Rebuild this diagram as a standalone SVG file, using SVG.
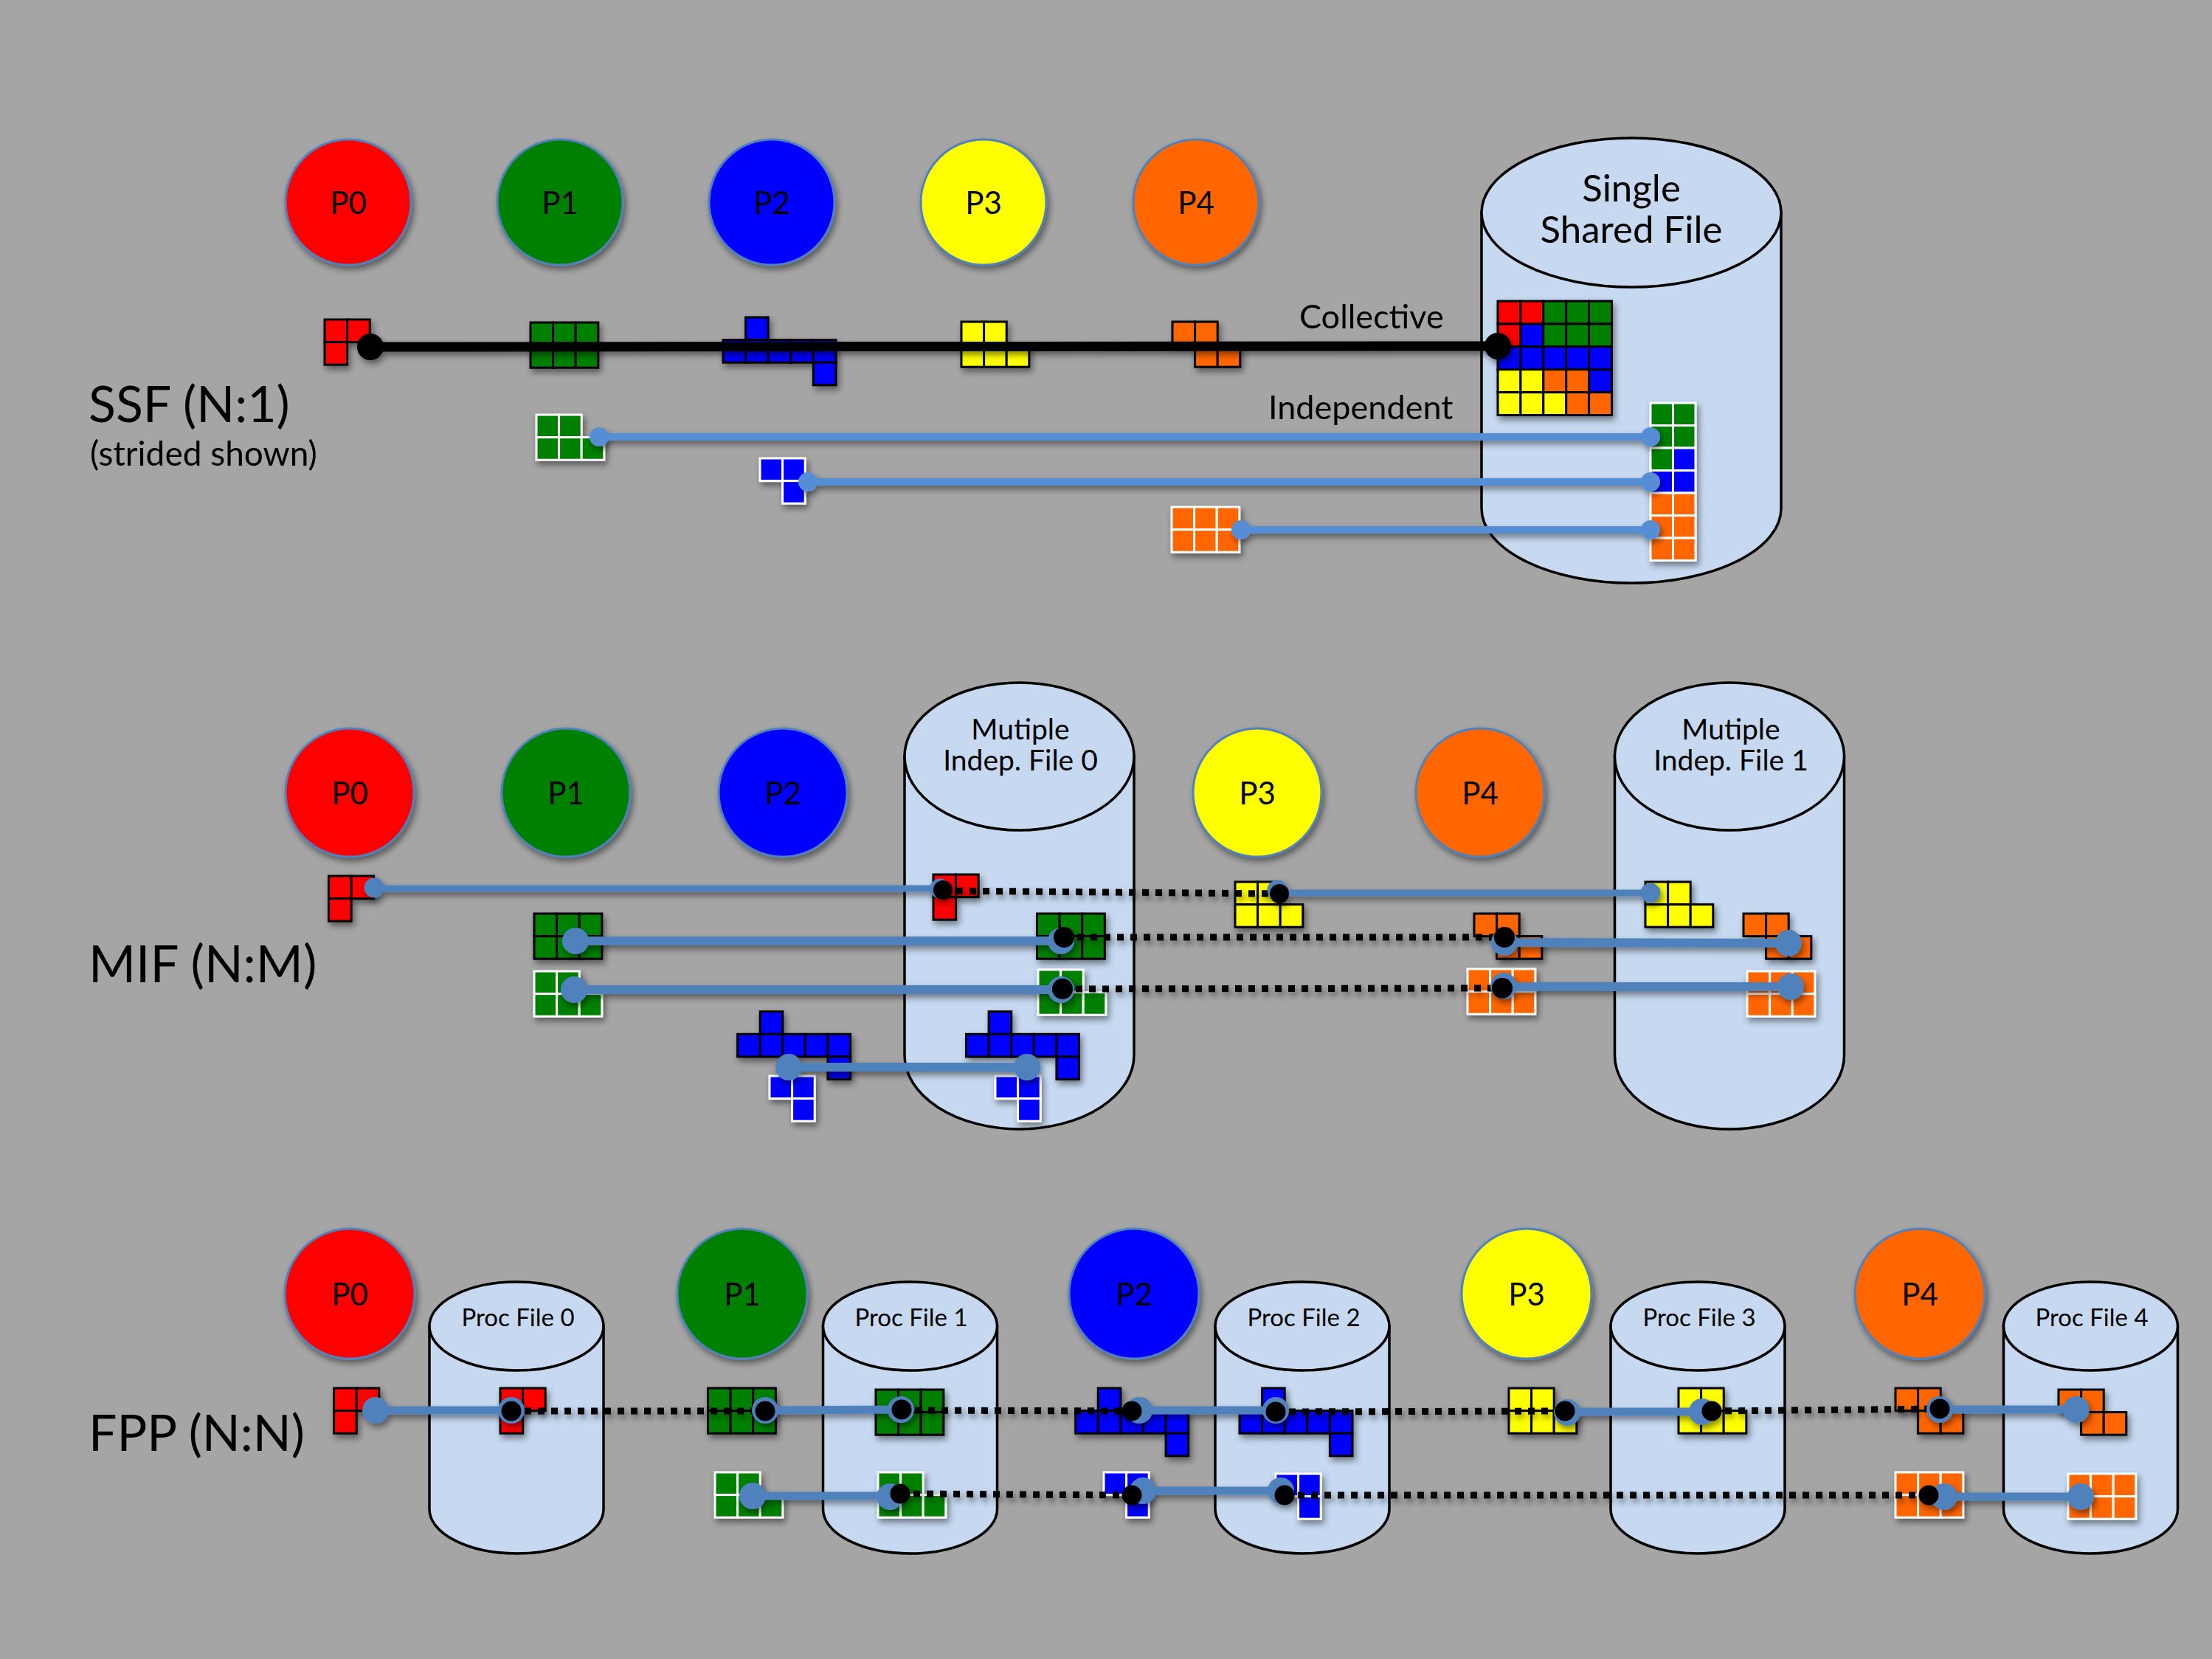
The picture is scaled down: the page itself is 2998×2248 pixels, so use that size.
<svg xmlns="http://www.w3.org/2000/svg" width="2998" height="2248" viewBox="0 0 2998 2248">
<style>
.cyl{fill:#c6d9f0;stroke:#000;stroke-width:3.5}
.pc{stroke:#4f81bd;stroke-width:3}
.t{font-family:Lato,"Liberation Sans",sans-serif;fill:#000}
.k{stroke:#000;stroke-width:3}
.w{stroke:#fff;stroke-width:3}
.R{fill:#ff0000}.G{fill:#008000}.B{fill:#0000ff}.Y{fill:#ffff00}.O{fill:#ff6600}
.sl{stroke:#558ed5;stroke-width:10}
.ml{stroke:#4f81bd}
.sd{fill:#558ed5}
.md{fill:#4f81bd}
.bk{fill:#000}
.dt{stroke:#000;stroke-width:9;stroke-dasharray:9 9;fill:none}
</style>
<defs>
<filter id="sh" filterUnits="userSpaceOnUse" x="0" y="0" width="2998" height="2248">
<feDropShadow dx="3" dy="5" stdDeviation="4" flood-color="#000" flood-opacity="0.45"/>
</filter>
<g id="gam"><rect x="0" y="0" width="30.6" height="30.6"/><rect x="30.6" y="0" width="30.6" height="30.6"/><rect x="0" y="30.6" width="30.6" height="30.6"/></g>
<g id="gamR"><rect x="0" y="0" width="30.6" height="30.6"/><rect x="30.6" y="0" width="30.6" height="30.6"/><rect x="30.6" y="30.6" width="30.6" height="30.6"/></g>
<g id="b6"><rect x="0" y="0" width="30.6" height="30.6"/><rect x="30.6" y="0" width="30.6" height="30.6"/><rect x="61.2" y="0" width="30.6" height="30.6"/><rect x="0" y="30.6" width="30.6" height="30.6"/><rect x="30.6" y="30.6" width="30.6" height="30.6"/><rect x="61.2" y="30.6" width="30.6" height="30.6"/></g>
<g id="b5"><rect x="0" y="0" width="30.6" height="30.6"/><rect x="30.6" y="0" width="30.6" height="30.6"/><rect x="0" y="30.6" width="30.6" height="30.6"/><rect x="30.6" y="30.6" width="30.6" height="30.6"/><rect x="61.2" y="30.6" width="30.6" height="30.6"/></g>
<g id="tet"><rect x="30.6" y="0" width="30.6" height="30.6"/><rect x="0" y="30.6" width="30.6" height="30.6"/><rect x="30.6" y="30.6" width="30.6" height="30.6"/><rect x="61.2" y="30.6" width="30.6" height="30.6"/><rect x="91.8" y="30.6" width="30.6" height="30.6"/><rect x="122.4" y="30.6" width="30.6" height="30.6"/><rect x="122.4" y="61.2" width="30.6" height="30.6"/></g>
<g id="zz"><rect x="0" y="0" width="30.6" height="30.6"/><rect x="30.6" y="0" width="30.6" height="30.6"/><rect x="30.6" y="30.6" width="30.6" height="30.6"/><rect x="61.2" y="30.6" width="30.6" height="30.6"/></g>
</defs>
<rect width="2998" height="2248" fill="#a5a5a5"/>

<!-- Cylinders -->
<g id="ssf-file">
<path class="cyl" d="M2008,288 L2008,689 A203,101 0 0 0 2414,689 L2414,288 Z"/>
<ellipse class="cyl" cx="2211" cy="288" rx="203" ry="101"/>
<text class="t" x="2211" y="273" font-size="51" text-anchor="middle">Single</text>
<text class="t" x="2211" y="329" font-size="51" text-anchor="middle">Shared File</text>
</g>
<g id="mif-file0">
<path class="cyl" d="M1226,1025 L1226,1430 A155.5,100 0 0 0 1537,1430 L1537,1025 Z"/>
<ellipse class="cyl" cx="1381.5" cy="1025" rx="155.5" ry="100"/>
<text class="t" x="1383" y="1002" font-size="39" text-anchor="middle">Mutiple</text>
<text class="t" x="1383" y="1044" font-size="39" text-anchor="middle">Indep. File 0</text>
</g>
<g id="mif-file1">
<path class="cyl" d="M2188.5,1025 L2188.5,1430 A155.5,100 0 0 0 2499.5,1430 L2499.5,1025 Z"/>
<ellipse class="cyl" cx="2344" cy="1025" rx="155.5" ry="100"/>
<text class="t" x="2346" y="1002" font-size="39" text-anchor="middle">Mutiple</text>
<text class="t" x="2346" y="1044" font-size="39" text-anchor="middle">Indep. File 1</text>
</g>
<g id="fpp-file0">
<path class="cyl" d="M582,1797 L582,2045 A118,60 0 0 0 818,2045 L818,1797 Z"/>
<ellipse class="cyl" cx="700" cy="1797" rx="118" ry="60"/>
<text class="t" x="702" y="1797" font-size="33" text-anchor="middle">Proc File 0</text>
</g>
<g id="fpp-file1">
<path class="cyl" d="M1115.5,1797 L1115.5,2045 A118,60 0 0 0 1351.5,2045 L1351.5,1797 Z"/>
<ellipse class="cyl" cx="1233.5" cy="1797" rx="118" ry="60"/>
<text class="t" x="1235" y="1797" font-size="33" text-anchor="middle">Proc File 1</text>
</g>
<g id="fpp-file2">
<path class="cyl" d="M1647,1797 L1647,2045 A118,60 0 0 0 1883,2045 L1883,1797 Z"/>
<ellipse class="cyl" cx="1765" cy="1797" rx="118" ry="60"/>
<text class="t" x="1767" y="1797" font-size="33" text-anchor="middle">Proc File 2</text>
</g>
<g id="fpp-file3">
<path class="cyl" d="M2183,1797 L2183,2045 A118,60 0 0 0 2419,2045 L2419,1797 Z"/>
<ellipse class="cyl" cx="2301" cy="1797" rx="118" ry="60"/>
<text class="t" x="2303" y="1797" font-size="33" text-anchor="middle">Proc File 3</text>
</g>
<g id="fpp-file4">
<path class="cyl" d="M2715.5,1797 L2715.5,2045 A118,60 0 0 0 2951.5,2045 L2951.5,1797 Z"/>
<ellipse class="cyl" cx="2833.5" cy="1797" rx="118" ry="60"/>
<text class="t" x="2835" y="1797" font-size="33" text-anchor="middle">Proc File 4</text>
</g>

<!-- Process circles -->
<g filter="url(#sh)">
<g id="ssf-p0"><circle class="pc R" cx="472" cy="274" r="85"/></g>
<g id="ssf-p1"><circle class="pc G" cx="759" cy="274" r="85"/></g>
<g id="ssf-p2"><circle class="pc B" cx="1046" cy="274" r="85"/></g>
<g id="ssf-p3"><circle class="pc Y" cx="1333" cy="274" r="85"/></g>
<g id="ssf-p4"><circle class="pc O" cx="1621" cy="274" r="85"/></g>
<g id="mif-p0"><circle class="pc R" cx="474" cy="1074" r="87"/></g>
<g id="mif-p1"><circle class="pc G" cx="767" cy="1074" r="87"/></g>
<g id="mif-p2"><circle class="pc B" cx="1061" cy="1074" r="87"/></g>
<g id="mif-p3"><circle class="pc Y" cx="1704" cy="1074" r="87"/></g>
<g id="mif-p4"><circle class="pc O" cx="2006" cy="1074" r="87"/></g>
<g id="fpp-p0"><circle class="pc R" cx="474" cy="1753" r="88"/></g>
<g id="fpp-p1"><circle class="pc G" cx="1006" cy="1753" r="88"/></g>
<g id="fpp-p2"><circle class="pc B" cx="1537" cy="1753" r="88"/></g>
<g id="fpp-p3"><circle class="pc Y" cx="2069" cy="1753" r="88"/></g>
<g id="fpp-p4"><circle class="pc O" cx="2602" cy="1753" r="88"/></g>
</g>
<g class="t" font-size="42" text-anchor="middle">
<text x="472" y="290">P0</text><text x="759" y="290">P1</text><text x="1046" y="290">P2</text><text x="1333" y="290">P3</text><text x="1621" y="290">P4</text>
<text x="474" y="1090">P0</text><text x="767" y="1090">P1</text><text x="1061" y="1090">P2</text><text x="1704" y="1090">P3</text><text x="2006" y="1090">P4</text>
<text x="474" y="1769">P0</text><text x="1006" y="1769">P1</text><text x="1537" y="1769">P2</text><text x="2069" y="1769">P3</text><text x="2602" y="1769">P4</text>
</g>

<!-- Data blocks -->
<g id="blocks" filter="url(#sh)">
<g id="ssf-blocks">
<use href="#gam" x="440" y="433" class="R k"/>
<use href="#b6" x="719" y="437" class="G k"/>
<use href="#tet" x="980" y="430" class="B k"/>
<use href="#b5" x="1303" y="436" class="Y k"/>
<use href="#zz" x="1589" y="436" class="O k"/>
<use href="#b5" x="727" y="562" class="G w"/>
<use href="#gamR" x="1030" y="621" class="B w"/>
<use href="#b6" x="1588" y="687" class="O w"/>
<g class="k">
<rect x="2030" y="408" width="30.9" height="30.9" class="R"/><rect x="2060.9" y="408" width="30.9" height="30.9" class="R"/><rect x="2091.8" y="408" width="30.9" height="30.9" class="G"/><rect x="2122.7" y="408" width="30.9" height="30.9" class="G"/><rect x="2153.6" y="408" width="30.9" height="30.9" class="G"/>
<rect x="2030" y="438.9" width="30.9" height="30.9" class="R"/><rect x="2060.9" y="438.9" width="30.9" height="30.9" class="B"/><rect x="2091.8" y="438.9" width="30.9" height="30.9" class="G"/><rect x="2122.7" y="438.9" width="30.9" height="30.9" class="G"/><rect x="2153.6" y="438.9" width="30.9" height="30.9" class="G"/>
<rect x="2030" y="469.8" width="30.9" height="30.9" class="B"/><rect x="2060.9" y="469.8" width="30.9" height="30.9" class="B"/><rect x="2091.8" y="469.8" width="30.9" height="30.9" class="B"/><rect x="2122.7" y="469.8" width="30.9" height="30.9" class="B"/><rect x="2153.6" y="469.8" width="30.9" height="30.9" class="B"/>
<rect x="2030" y="500.7" width="30.9" height="30.9" class="Y"/><rect x="2060.9" y="500.7" width="30.9" height="30.9" class="Y"/><rect x="2091.8" y="500.7" width="30.9" height="30.9" class="O"/><rect x="2122.7" y="500.7" width="30.9" height="30.9" class="O"/><rect x="2153.6" y="500.7" width="30.9" height="30.9" class="B"/>
<rect x="2030" y="531.6" width="30.9" height="30.9" class="Y"/><rect x="2060.9" y="531.6" width="30.9" height="30.9" class="Y"/><rect x="2091.8" y="531.6" width="30.9" height="30.9" class="Y"/><rect x="2122.7" y="531.6" width="30.9" height="30.9" class="O"/><rect x="2153.6" y="531.6" width="30.9" height="30.9" class="O"/>
</g>
<g class="w">
<rect x="2237" y="546" width="30.5" height="30.5" class="G"/><rect x="2267.5" y="546" width="30.5" height="30.5" class="G"/>
<rect x="2237" y="576.5" width="30.5" height="30.5" class="G"/><rect x="2267.5" y="576.5" width="30.5" height="30.5" class="G"/>
<rect x="2237" y="607" width="30.5" height="30.5" class="G"/><rect x="2267.5" y="607" width="30.5" height="30.5" class="B"/>
<rect x="2237" y="637.5" width="30.5" height="30.5" class="B"/><rect x="2267.5" y="637.5" width="30.5" height="30.5" class="B"/>
<rect x="2237" y="668" width="30.5" height="30.5" class="O"/><rect x="2267.5" y="668" width="30.5" height="30.5" class="O"/>
<rect x="2237" y="698.5" width="30.5" height="30.5" class="O"/><rect x="2267.5" y="698.5" width="30.5" height="30.5" class="O"/>
<rect x="2237" y="729" width="30.5" height="30.5" class="O"/><rect x="2267.5" y="729" width="30.5" height="30.5" class="O"/>
</g>
</g>
<g id="mif-blocks">
<use href="#gam" x="445.5" y="1187" class="R k"/>
<use href="#gam" x="1265" y="1185" class="R k"/>
<use href="#b6" x="724" y="1238" class="G k"/>
<use href="#b6" x="1405.5" y="1238" class="G k"/>
<use href="#b5" x="724" y="1316" class="G w"/>
<use href="#b5" x="1407" y="1314" class="G w"/>
<use href="#tet" x="999.6" y="1370.7" class="B k"/>
<use href="#tet" x="1309.5" y="1370.7" class="B k"/>
<use href="#gamR" x="1043" y="1458" class="B w"/>
<use href="#gamR" x="1349" y="1458" class="B w"/>
<use href="#b5" x="1674" y="1195" class="Y k"/>
<use href="#b5" x="2230" y="1195" class="Y k"/>
<use href="#zz" x="1998" y="1238" class="O k"/>
<use href="#zz" x="2363" y="1238" class="O k"/>
<use href="#b6" x="1989" y="1313" class="O w"/>
<use href="#b6" x="2368" y="1316" class="O w"/>
</g>
<g id="fpp-blocks">
<use href="#gam" x="452.6" y="1881" class="R k"/>
<use href="#gam" x="678" y="1881" class="R k"/>
<use href="#b6" x="959.5" y="1881" class="G k"/>
<use href="#b6" x="1187" y="1883" class="G k"/>
<use href="#b5" x="969" y="1995" class="G w"/>
<use href="#b5" x="1190" y="1995" class="G w"/>
<use href="#tet" x="1457.7" y="1881" class="B k"/>
<use href="#tet" x="1680" y="1881" class="B k"/>
<use href="#gamR" x="1496" y="1995" class="B w"/>
<use href="#gamR" x="1729" y="1997" class="B w"/>
<use href="#b5" x="2045" y="1881" class="Y k"/>
<use href="#b5" x="2275" y="1881" class="Y k"/>
<use href="#zz" x="2569" y="1881" class="O k"/>
<use href="#zz" x="2790" y="1883" class="O k"/>
<use href="#b6" x="2569" y="1995" class="O w"/>
<use href="#b6" x="2803" y="1997" class="O w"/>
</g>
</g>

<!-- Connectors -->
<g id="connectors" filter="url(#sh)">
<line x1="502" y1="470" x2="2030" y2="469" stroke="#000" stroke-width="13"/>
<line class="sl" x1="812" y1="592" x2="2237" y2="592"/>
<line class="sl" x1="1095" y1="653" x2="2237" y2="653"/>
<line class="sl" x1="1682" y1="718" x2="2237" y2="718"/>
<circle class="bk" cx="502" cy="470" r="18"/><circle class="bk" cx="2030" cy="469" r="18"/>
<circle class="sd" cx="812" cy="592" r="13"/><circle class="sd" cx="2237" cy="592" r="13"/>
<circle class="sd" cx="1095" cy="653" r="13"/><circle class="sd" cx="2237" cy="653" r="13"/>
<circle class="sd" cx="1682" cy="718" r="13"/><circle class="sd" cx="2237" cy="718" r="13"/>

<line class="dt" x1="1278" y1="1207" x2="1734" y2="1211"/>
<line class="dt" x1="1442" y1="1270" x2="2039" y2="1270"/>
<line class="dt" x1="1440" y1="1340" x2="2036" y2="1339"/>
<line class="ml" stroke-width="9" x1="507" y1="1204" x2="1275" y2="1204"/>
<line class="ml" stroke-width="9" x1="1734" y1="1210" x2="2237" y2="1210"/>
<line class="ml" stroke-width="12" x1="780" y1="1275" x2="1438" y2="1275"/>
<line class="ml" stroke-width="12" x1="2039" y1="1277" x2="2424" y2="1278"/>
<line class="ml" stroke-width="12" x1="778" y1="1341" x2="1438" y2="1341"/>
<line class="ml" stroke-width="12" x1="2038" y1="1337" x2="2427" y2="1337"/>
<line class="ml" stroke-width="12" x1="1069" y1="1446" x2="1392" y2="1446"/>
<circle class="md" cx="507" cy="1203" r="13.5"/><circle class="md" cx="1274" cy="1204" r="13.5"/>
<circle class="md" cx="1731" cy="1206" r="13.5"/><circle class="md" cx="2237" cy="1210" r="13.5"/>
<circle class="md" cx="780" cy="1275" r="18"/><circle class="md" cx="1438" cy="1275" r="18"/>
<circle class="md" cx="2039" cy="1277" r="18"/><circle class="md" cx="2424" cy="1278" r="18"/>
<circle class="md" cx="778" cy="1341" r="18"/><circle class="md" cx="1438" cy="1341" r="18"/>
<circle class="md" cx="2038" cy="1336" r="18"/><circle class="md" cx="2427" cy="1337" r="18"/>
<circle class="md" cx="1069" cy="1446" r="18"/><circle class="md" cx="1392" cy="1446" r="18"/>
<circle class="bk" cx="1278" cy="1206" r="13"/><circle class="bk" cx="1734" cy="1211" r="13"/>
<circle class="bk" cx="1442" cy="1270" r="14"/><circle class="bk" cx="2039" cy="1270" r="14"/>
<circle class="bk" cx="1440" cy="1340" r="14"/><circle class="bk" cx="2036" cy="1339" r="14"/>

<line class="dt" x1="693" y1="1912" x2="1037" y2="1912"/>
<line class="dt" x1="1222" y1="1911" x2="1534" y2="1912"/>
<line class="dt" x1="1729" y1="1913" x2="2121" y2="1912"/>
<line class="dt" x1="2320" y1="1912" x2="2629" y2="1909"/>
<line class="dt" x1="1220" y1="2024" x2="1534" y2="2026"/>
<line class="dt" x1="1741" y1="2026" x2="2614" y2="2026"/>
<line class="ml" stroke-width="11" x1="509" y1="1911" x2="693" y2="1911"/>
<line class="ml" stroke-width="11" x1="1037" y1="1911" x2="1221" y2="1910"/>
<line class="ml" stroke-width="11" x1="1544" y1="1911" x2="1729" y2="1911"/>
<line class="ml" stroke-width="11" x1="2124" y1="1913" x2="2307" y2="1913"/>
<line class="ml" stroke-width="11" x1="2629" y1="1910" x2="2814" y2="1910"/>
<line class="ml" stroke-width="11" x1="1020" y1="2027" x2="1206" y2="2027"/>
<line class="ml" stroke-width="11" x1="1549" y1="2020" x2="1736" y2="2020"/>
<line class="ml" stroke-width="11" x1="2635" y1="2028" x2="2820" y2="2028"/>
<circle class="md" cx="509" cy="1911" r="18"/><circle class="md" cx="693" cy="1911" r="18"/>
<circle class="md" cx="1037" cy="1911" r="18"/><circle class="md" cx="1221" cy="1910" r="18"/>
<circle class="md" cx="1544" cy="1911" r="18"/><circle class="md" cx="1729" cy="1911" r="18"/>
<circle class="md" cx="2124" cy="1914" r="18"/><circle class="md" cx="2307" cy="1913" r="18"/>
<circle class="md" cx="2629" cy="1910" r="18"/><circle class="md" cx="2814" cy="1910" r="18"/>
<circle class="md" cx="1020" cy="2027" r="18"/><circle class="md" cx="1206" cy="2028" r="18"/>
<circle class="md" cx="1549" cy="2020" r="18"/><circle class="md" cx="1736" cy="2020" r="18"/>
<circle class="md" cx="2635" cy="2028" r="18"/><circle class="md" cx="2820" cy="2028" r="18"/>
<circle class="bk" cx="693" cy="1912" r="13.5"/>
<circle class="bk" cx="1037" cy="1912" r="13.5"/><circle class="bk" cx="1222" cy="1910" r="13.5"/>
<circle class="bk" cx="1534" cy="1912" r="13.5"/><circle class="bk" cx="1729" cy="1913" r="13.5"/>
<circle class="bk" cx="2121" cy="1912" r="13.5"/><circle class="bk" cx="2320" cy="1912" r="13.5"/>
<circle class="bk" cx="2629" cy="1909" r="13.5"/>
<circle class="bk" cx="1220" cy="2024" r="13.5"/>
<circle class="bk" cx="1534" cy="2026" r="13.5"/><circle class="bk" cx="1741" cy="2026" r="13.5"/>
<circle class="bk" cx="2614" cy="2026" r="13.5"/>
</g>

<!-- Labels -->
<g id="labels" class="t">
<text x="1761" y="445" font-size="45">Collective</text>
<text x="1719" y="568" font-size="45">Independent</text>
<text x="120" y="572" font-size="68">SSF (N:1)</text>
<text x="122" y="631" font-size="46">(strided shown)</text>
<text x="120" y="1331" font-size="69">MIF (N:M)</text>
<text x="120" y="1966" font-size="68">FPP (N:N)</text>
</g>
</svg>
